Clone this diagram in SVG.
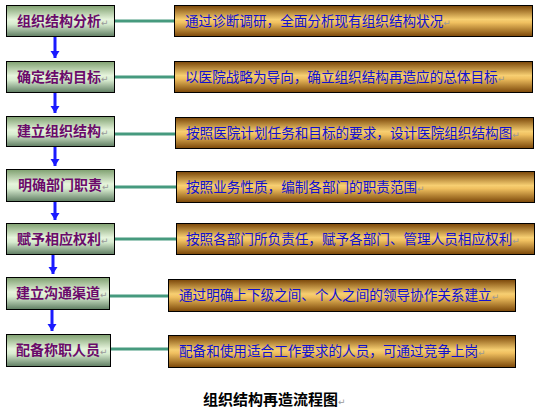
<svg xmlns="http://www.w3.org/2000/svg" width="541" height="414" viewBox="0 0 541 414">
<defs>
<linearGradient id="gGreen" x1="0" y1="0" x2="0" y2="1">
<stop offset="0" stop-color="#7fa070"/>
<stop offset="0.45" stop-color="#e6f4dc"/>
<stop offset="0.6" stop-color="#d8ecd0"/>
<stop offset="1" stop-color="#5f7d62"/>
</linearGradient>
<linearGradient id="gGold" x1="0" y1="0" x2="0" y2="1">
<stop offset="0" stop-color="#7a4608"/>
<stop offset="0.45" stop-color="#f7cf72"/>
<stop offset="0.55" stop-color="#f0c060"/>
<stop offset="1" stop-color="#7a4608"/>
</linearGradient>
<marker id="ah" markerWidth="8" markerHeight="10" refX="7" refY="5" orient="auto" markerUnits="userSpaceOnUse">
<path d="M0,0.5 L7,5 L0,9.5 z" fill="#1a1aff"/>
</marker>
</defs>
<style>
.lb{fill:url(#gGreen);stroke:#000;stroke-width:1}
.rb{fill:url(#gGold);stroke:#000;stroke-width:1}
.lt{font-family:"Noto Sans CJK SC",sans-serif;font-size:14px;font-weight:bold;fill:#6a0a6a}
.rt{font-family:"Noto Sans CJK SC",sans-serif;font-size:13.6px;fill:#1010d0}
.pm{font-family:"DejaVu Sans",sans-serif;font-size:9px;fill:#999;font-weight:normal}
.cn{stroke:#469a7e;stroke-width:3;fill:none}
.ar{stroke:#1a1aff;stroke-width:3;fill:none}
.tt{font-family:"Noto Sans CJK SC",sans-serif;font-size:15px;font-weight:bold;fill:#000}
</style>
<g id="connectors">
<line class="cn" x1="114" y1="21" x2="174" y2="21"/>
<line class="cn" x1="115" y1="77" x2="174" y2="77"/>
<line class="cn" x1="115" y1="134" x2="175" y2="134"/>
<line class="cn" x1="115" y1="187" x2="176" y2="187"/>
<line class="cn" x1="115" y1="239" x2="176" y2="239"/>
<line class="cn" x1="110" y1="296" x2="168" y2="296"/>
<line class="cn" x1="111" y1="349" x2="168" y2="349"/>
<line class="ar" x1="55" y1="37" x2="55" y2="58" marker-end="url(#ah)"/>
<line class="ar" x1="55" y1="93" x2="55" y2="113" marker-end="url(#ah)"/>
<line class="ar" x1="55" y1="147" x2="55" y2="166" marker-end="url(#ah)"/>
<line class="ar" x1="55" y1="202" x2="55" y2="220" marker-end="url(#ah)"/>
<line class="ar" x1="53" y1="255" x2="53" y2="274" marker-end="url(#ah)"/>
<line class="ar" x1="52" y1="310" x2="52" y2="331" marker-end="url(#ah)"/>
</g>
<g id="n1"><rect class="lb" x="6.5" y="5.5" width="108" height="31"/><text class="lt" x="17" y="26">组织结构分析<tspan class="pm">↵</tspan></text></g>
<g id="n2"><rect class="lb" x="6.5" y="61.5" width="108" height="31"/><text class="lt" x="17" y="82">确定结构目标<tspan class="pm">↵</tspan></text></g>
<g id="n3"><rect class="lb" x="6.5" y="116.5" width="108" height="30"/><text class="lt" x="17" y="136">建立组织结构<tspan class="pm">↵</tspan></text></g>
<g id="n4"><rect class="lb" x="6.5" y="169.5" width="108" height="32"/><text class="lt" x="18" y="190">明确部门职责<tspan class="pm">↵</tspan></text></g>
<g id="n5"><rect class="lb" x="6.5" y="223.5" width="108" height="31"/><text class="lt" x="17" y="244">赋予相应权利<tspan class="pm">↵</tspan></text></g>
<g id="n6"><rect class="lb" x="6.5" y="277.5" width="103" height="32"/><text class="lt" x="16" y="298">建立沟通渠道<tspan class="pm">↵</tspan></text></g>
<g id="n7"><rect class="lb" x="6.5" y="334.5" width="104" height="32"/><text class="lt" x="16" y="355">配备称职人员<tspan class="pm">↵</tspan></text></g>
<g id="d1"><rect class="rb" x="174.5" y="5.5" width="358" height="31"/><text class="rt" x="185" y="26">通过诊断调研，全面分析现有组织结构状况<tspan class="pm">↵</tspan></text></g>
<g id="d2"><rect class="rb" x="174.5" y="61.5" width="358" height="31"/><text class="rt" x="185" y="82">以医院战略为导向，确立组织结构再造应的总体目标<tspan class="pm">↵</tspan></text></g>
<g id="d3"><rect class="rb" x="175.5" y="117.5" width="358" height="31"/><text class="rt" x="186" y="138">按照医院计划任务和目标的要求，设计医院组织结构图<tspan class="pm">↵</tspan></text></g>
<g id="d4"><rect class="rb" x="176.5" y="171.5" width="358" height="31"/><text class="rt" x="186" y="192">按照业务性质，编制各部门的职责范围<tspan class="pm">↵</tspan></text></g>
<g id="d5"><rect class="rb" x="176.5" y="223.5" width="358" height="31"/><text class="rt" x="186" y="244">按照各部门所负责任，赋予各部门、管理人员相应权利<tspan class="pm">↵</tspan></text></g>
<g id="d6"><rect class="rb" x="168.5" y="279.5" width="347" height="32"/><text class="rt" x="179" y="300">通过明确上下级之间、个人之间的领导协作关系建立<tspan class="pm">↵</tspan></text></g>
<g id="d7"><rect class="rb" x="168.5" y="335.5" width="347" height="32"/><text class="rt" x="179" y="356">配备和使用适合工作要求的人员，可通过竞争上岗<tspan class="pm">↵</tspan></text></g>
<text class="tt" x="203" y="405">组织结构再造流程图<tspan class="pm">↵</tspan></text>
</svg>
